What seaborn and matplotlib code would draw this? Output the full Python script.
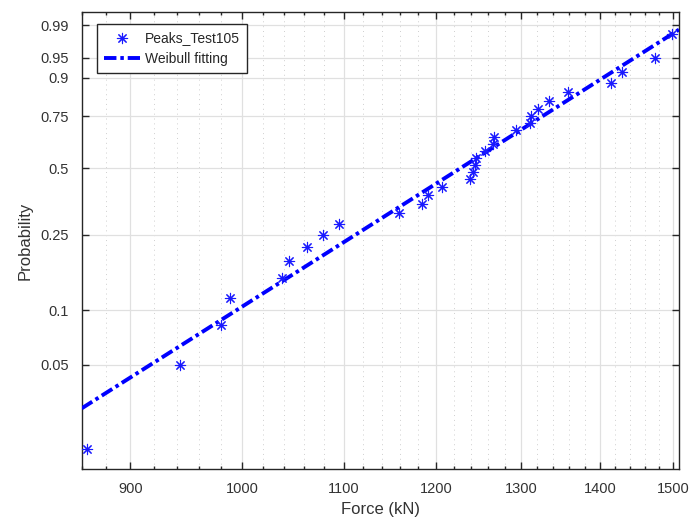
import numpy as np
import matplotlib
matplotlib.use("Agg")
import matplotlib.pyplot as plt
import matplotlib.ticker as mticker
import seaborn as sns

# ---- data ----
force_kN = [864.3, 943.1, 980.2, 988.5, 1037.8, 1045.3, 1062.7, 1078.8, 1095.6, 1159.2,
            1183.9, 1190.6, 1206.4, 1238.9, 1242.7, 1244.7, 1246.0, 1256.5, 1266.3, 1267.7,
            1293.7, 1310.8, 1312.0, 1321.1, 1334.1, 1358.1, 1414.6, 1429.7, 1474.4, 1498.6]
probability = [0.0167, 0.0500, 0.0833, 0.1167, 0.1500, 0.1833, 0.2167, 0.2500, 0.2833, 0.3167,
               0.3500, 0.3833, 0.4167, 0.4500, 0.4833, 0.5167, 0.5500, 0.5833, 0.6167, 0.6500,
               0.6833, 0.7167, 0.7500, 0.7833, 0.8167, 0.8500, 0.8833, 0.9167, 0.9500, 0.9833]
# Weibull fit parameters (shape k, scale lambda)
weibull_shape = 8.94
weibull_scale = 1279.0
fit_range = [859.8, 1508.0]

y_ticks = [0.05, 0.1, 0.25, 0.5, 0.75, 0.9, 0.95, 0.99]
y_ticklabels = ["0.05", "0.1", "0.25", "0.5", "0.75", "0.9", "0.95", "0.99"]
x_ticks = [900, 1000, 1100, 1200, 1300, 1400, 1500]
ylim_p = [0.01276, 0.99594]

# ---- style ----
sns.set_theme(style="white")
plt.rcParams['font.family'] = ['Liberation Sans', 'DejaVu Sans']

def fwd(p):
    p = np.clip(np.asarray(p, dtype=float), 1e-9, 1 - 1e-12)
    return np.log(-np.log(1 - p))

def inv(y):
    return 1 - np.exp(-np.exp(np.asarray(y, dtype=float)))

fig = plt.figure(figsize=(6.89, 5.22), dpi=100)
ax = fig.add_axes([0.1186, 0.1015, 0.9855 - 0.1186, 0.977 - 0.1015])
ax.set_xscale('log')
ax.set_yscale('function', functions=(fwd, inv))

# fitted line
fit_p = [1 - np.exp(-(x / weibull_scale) ** weibull_shape) for x in fit_range]
sns.lineplot(x=fit_range, y=fit_p, ax=ax, color='#0000ff', lw=2.8,
             linestyle=(0, (3.2, 1.0, 0.9, 1.0)), label='Weibull fitting', zorder=3)
# data points
sns.scatterplot(x=force_kN, y=probability, ax=ax, marker=(8, 2, 0), s=55,
                color='#1a1aff', edgecolor='#1a1aff', linewidth=0.8,
                label='Peaks_Test105', zorder=4)

ax.set_xlim(fit_range)
ax.set_ylim(ylim_p)

ax.xaxis.set_major_locator(mticker.FixedLocator(x_ticks))
ax.xaxis.set_major_formatter(mticker.FixedFormatter([str(v) for v in x_ticks]))
ax.xaxis.set_minor_locator(mticker.FixedLocator([v for v in range(860, 1520, 20) if v % 100 != 0]))
ax.xaxis.set_minor_formatter(mticker.NullFormatter())
ax.yaxis.set_major_locator(mticker.FixedLocator(y_ticks))
ax.yaxis.set_major_formatter(mticker.FixedFormatter(y_ticklabels))
ax.yaxis.set_minor_locator(mticker.NullLocator())

ax.grid(True, which='major', color='#e0e0e0', lw=0.9, ls='-')
ax.grid(True, which='minor', axis='x', color='#cfcfcf', lw=0.7, ls=(0, (1, 4)))
ax.set_axisbelow(True)

for s in ax.spines.values():
    s.set_color('#262626')
    s.set_linewidth(1.0)

ax.tick_params(axis='both', which='major', direction='in', length=5, width=1,
               color='#262626', labelcolor='#333333', labelsize=10.5,
               top=True, right=True, bottom=True, left=True)
ax.tick_params(axis='x', which='major', pad=9)
ax.tick_params(axis='y', which='major', pad=9)
ax.tick_params(axis='x', which='minor', direction='in', length=2.5, width=1,
               color='#262626', top=True, bottom=True)

ax.set_xlabel('Force (kN)', fontsize=12, color='#333333', labelpad=5)
ax.set_ylabel('Probability', fontsize=12, color='#333333', labelpad=6)

# legend: markers first
handles, labels = ax.get_legend_handles_labels()
order = [labels.index('Peaks_Test105'), labels.index('Weibull fitting')]
leg = ax.legend([handles[i] for i in order], [labels[i] for i in order],
                loc='upper left', bbox_to_anchor=(0.0251, 0.9737), borderaxespad=0,
                frameon=True, fancybox=False, edgecolor='#262626', framealpha=1,
                fontsize=10, handlelength=2.6, handletextpad=0.4, borderpad=0.5,
                labelspacing=0.5)
leg.get_frame().set_linewidth(1.0)

fig.savefig('out.png', dpi=100)
